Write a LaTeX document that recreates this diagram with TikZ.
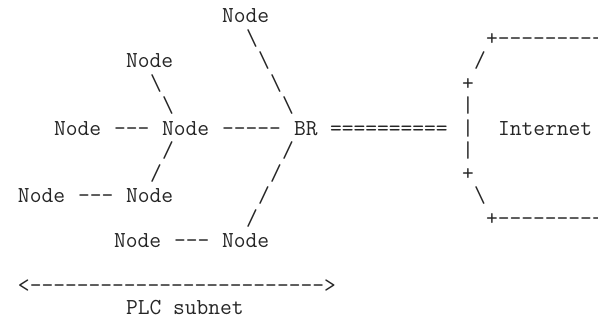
\documentclass[tikz,border=0pt]{standalone}
\usepackage{fontspec}
\setmonofont{Latin Modern Mono}
\usepackage{tikz}
\tikzset{
  asciitxt/.style={font=\ttfamily\fontsize{11.43pt}{12pt}\selectfont, text=black!85,
    anchor=base west, inner sep=0pt, outer sep=0pt},
}
\begin{document}
\begin{tikzpicture}[x=6pt, y=-11.23pt]
    \useasboundingbox (-9pt,11.5pt) rectangle (290pt,-148.5pt);
    % nodes
    \node[asciitxt] (n1) at (17,0) {Node};
    \node[asciitxt] (n2) at (9,2) {Node};
    \node[asciitxt] (n3) at (3,5) {Node};
    \node[asciitxt] (n4) at (12,5) {Node};
    \node[asciitxt] (br) at (23,5) {BR};
    \node[asciitxt] (inet) at (40,5) {Internet};
    \node[asciitxt] (n5) at (0,8) {Node};
    \node[asciitxt] (n6) at (9,8) {Node};
    \node[asciitxt] (n7) at (8,10) {Node};
    \node[asciitxt] (n8) at (17,10) {Node};
    % links, as printed
    \node[asciitxt] (l1a) at (19,1) {\textbackslash};
    \node[asciitxt] (l1b) at (20,2) {\textbackslash};
    \node[asciitxt] (l1c) at (21,3) {\textbackslash};
    \node[asciitxt] (l1d) at (22,4) {\textbackslash};
    \node[asciitxt] (l2a) at (11,3) {\textbackslash};
    \node[asciitxt] (l2b) at (12,4) {\textbackslash};
    \node[asciitxt] (l3) at (8,5) {---};
    \node[asciitxt] (l4) at (17,5) {-----};
    \node[asciitxt] (l5) at (26,5) {==========};
    \node[asciitxt] (l6a) at (12,6) {/};
    \node[asciitxt] (l6b) at (11,7) {/};
    \node[asciitxt] (l7a) at (22,6) {/};
    \node[asciitxt] (l7b) at (21,7) {/};
    \node[asciitxt] (l7c) at (20,8) {/};
    \node[asciitxt] (l7d) at (19,9) {/};
    \node[asciitxt] (l8) at (5,8) {---};
    \node[asciitxt] (l9) at (13,10) {---};
    % internet cloud
    \node[asciitxt] (w1) at (39,1) {+----------};
    \node[asciitxt] (w2) at (38,2) {/};
    \node[asciitxt] (w3) at (37,3) {+};
    \node[asciitxt] (w4) at (37,4) {|};
    \node[asciitxt] (w5) at (37,5) {|};
    \node[asciitxt] (w6) at (37,6) {|};
    \node[asciitxt] (w7) at (37,7) {+};
    \node[asciitxt] (w8) at (38,8) {\textbackslash};
    \node[asciitxt] (w9) at (39,9) {+----------};
    % subnet span
    \node[asciitxt] (span) at (0,12) {<-----{}-----{}-----{}-----{}----->};
    \node[asciitxt] (plc) at (9,13) {PLC subnet};
  \end{tikzpicture}
\end{document}
